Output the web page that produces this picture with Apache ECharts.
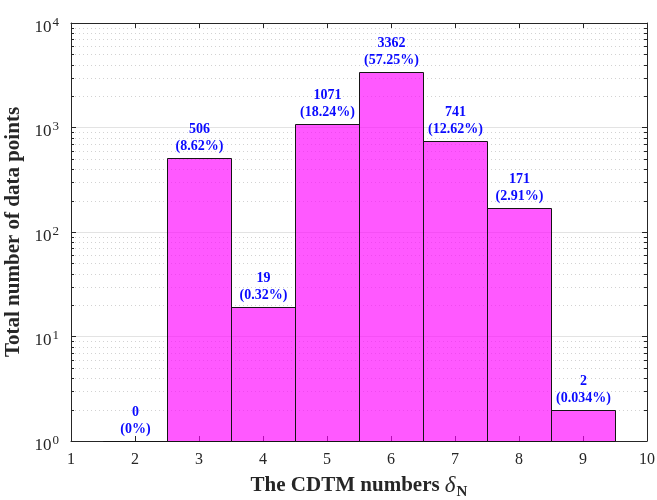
<!DOCTYPE html>
<html>
<head>
<meta charset="utf-8">
<script src="https://cdn.jsdelivr.net/npm/echarts@6/dist/echarts.min.js"></script>
<style>
  html, body { margin: 0; padding: 0; background: #ffffff; }
  #chart { width: 657px; height: 500px; }
</style>
</head>
<body>
<div id="chart"></div>
<script>
// CDTM number of each histogram bin and how many data points fell in it
const cdtmNumbers = [2, 3, 4, 5, 6, 7, 8, 9];
const pointCounts = [0, 506, 19, 1071, 3362, 741, 171, 2];
const shareLabels = ['0%', '8.62%', '0.32%', '18.24%', '57.25%', '12.62%', '2.91%', '0.034%'];

// Axis ranges and the log-scale minor grid positions
const xRange = [1, 10];
const yRange = [1, 10000];
const yMinorValues = [
  2, 3, 4, 5, 6, 7, 8, 9,
  20, 30, 40, 50, 60, 70, 80, 90,
  200, 300, 400, 500, 600, 700, 800, 900,
  2000, 3000, 4000, 5000, 6000, 7000, 8000, 9000
];

const serif = '"Liberation Serif", "Times New Roman", serif';
const axisColor = '#262626';

const chart = echarts.init(document.getElementById('chart'), null, { renderer: 'canvas' });

function powerLabel(value) {
  const exp = Math.round(Math.log10(value));
  return '{b|10}{s|' + exp + '}';
}

// Histogram bars: each bin spans one unit around its CDTM number
function renderBar(params, api) {
  const x = api.value(0);
  const v = api.value(1);
  const top = Math.max(v, yRange[0]);
  const tl = api.coord([x - 0.5, top]);
  const br = api.coord([x + 0.5, yRange[0]]);
  const x0 = Math.round(tl[0]) + 0.5;
  const x1 = Math.round(br[0]) + 0.5;
  const y0 = Math.round(tl[1]) + 0.5;
  const y1 = Math.round(br[1]) + 0.5;
  return {
    type: 'group',
    children: [
      {
        type: 'rect',
        shape: { x: x0, y: y0, width: x1 - x0, height: y1 - y0 },
        style: { fill: 'rgba(255,0,255,0.65)', stroke: '#151515', lineWidth: 1 }
      },
      {
        type: 'text',
        x: (x0 + x1) / 2,
        y: y0 - 4,
        style: {
          text: v + '\n(' + shareLabels[params.dataIndex] + ')',
          fill: '#0a0aff',
          font: 'bold 14px ' + serif,
          align: 'center',
          verticalAlign: 'bottom',
          lineHeight: 17
        }
      }
    ]
  };
}

// Dotted minor grid lines with short inward ticks on both sides
function renderMinor(params, api) {
  const v = api.value(1);
  const l = api.coord([xRange[0], v]);
  const r = api.coord([xRange[1], v]);
  const y = Math.round(l[1]) + 0.5;
  return {
    type: 'group',
    children: [
      {
        type: 'line',
        shape: { x1: l[0], y1: y, x2: r[0], y2: y },
        style: { stroke: '#d2d2d2', lineWidth: 1, lineDash: [1, 3] }
      },
      {
        type: 'line',
        shape: { x1: l[0], y1: y, x2: l[0] + 3, y2: y },
        style: { stroke: axisColor, lineWidth: 1 }
      },
      {
        type: 'line',
        shape: { x1: r[0] - 3, y1: y, x2: r[0], y2: y },
        style: { stroke: axisColor, lineWidth: 1 }
      }
    ]
  };
}

const xAxisBase = {
  type: 'value',
  min: xRange[0],
  max: xRange[1],
  interval: 1,
  axisLine: { show: true, onZero: false, lineStyle: { color: axisColor, width: 1 } },
  axisTick: { show: true, inside: true, length: 5, lineStyle: { color: axisColor } },
  splitLine: { show: false }
};

const yAxisBase = {
  type: 'log',
  logBase: 10,
  min: yRange[0],
  max: yRange[1],
  axisLine: { show: true, lineStyle: { color: axisColor, width: 1 } },
  axisTick: { show: true, inside: true, length: 5, lineStyle: { color: axisColor } }
};

chart.setOption({
  animation: false,
  backgroundColor: '#ffffff',
  grid: { left: 71, right: 10, top: 23, bottom: 59, containLabel: false, outerBoundsMode: 'none' },
  xAxis: [
    Object.assign({}, xAxisBase, {
      position: 'bottom',
      name: '{a|The CDTM numbers }{d|δ}{n|N}',
      nameLocation: 'middle',
      nameGap: 31,
      nameTextStyle: {
        rich: {
          a: { fontFamily: serif, fontWeight: 'bold', fontSize: 21, color: axisColor },
          d: { fontFamily: serif, fontStyle: 'italic', fontSize: 23, color: axisColor },
          n: { fontFamily: serif, fontWeight: 'bold', fontSize: 15, color: axisColor, padding: [13, 0, 0, 1] }
        }
      },
      axisLabel: { show: true, margin: 11, fontFamily: serif, fontSize: 16, color: axisColor }
    }),
    Object.assign({}, xAxisBase, {
      position: 'top',
      axisLabel: { show: false }
    })
  ],
  yAxis: [
    Object.assign({}, yAxisBase, {
      position: 'left',
      name: 'Total number of data points',
      nameLocation: 'middle',
      nameGap: 33,
      nameTextStyle: { fontFamily: serif, fontWeight: 'bold', fontSize: 21, color: axisColor },
      splitLine: { show: true, lineStyle: { color: '#e3e3e3', width: 1 } },
      axisLabel: {
        show: true,
        margin: 12,
        formatter: powerLabel,
        padding: [9, 0, 0, 0],
        rich: {
          b: { fontFamily: serif, fontSize: 17, color: axisColor },
          s: { fontFamily: serif, fontSize: 13, color: axisColor, padding: [0, 0, 10, 1] }
        }
      }
    }),
    Object.assign({}, yAxisBase, {
      position: 'right',
      splitLine: { show: false },
      axisLabel: { show: false }
    })
  ],
  series: [
    {
      type: 'custom',
      name: 'minor grid',
      xAxisIndex: 0,
      yAxisIndex: 0,
      z: 1,
      silent: true,
      renderItem: renderMinor,
      data: yMinorValues.map(v => [xRange[0], v])
    },
    {
      type: 'custom',
      name: 'data points',
      xAxisIndex: 0,
      yAxisIndex: 0,
      z: 3,
      renderItem: renderBar,
      data: cdtmNumbers.map((c, i) => [c, pointCounts[i]])
    }
  ]
});
</script>
</body>
</html>
